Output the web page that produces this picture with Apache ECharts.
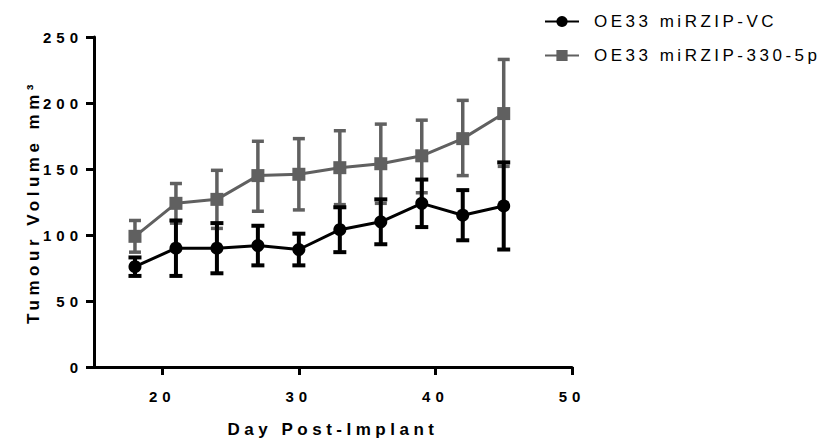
<!DOCTYPE html>
<html><head><meta charset="utf-8">
<script src="https://cdn.jsdelivr.net/npm/echarts@6/dist/echarts.min.js"></script>
<style>
html,body{margin:0;padding:0;background:#fff}
#c{width:838px;height:443px}
</style></head><body><div id="c"></div>
<script>
const days = [18, 21, 24, 27, 30, 33, 36, 39, 42, 45];
const vcMean = [76, 90, 90, 92, 89, 104, 110, 124, 115, 122];
const vcLow  = [69, 69, 71, 77, 77, 87, 93, 106, 96, 89];
const vcHigh = [83, 111, 109, 107, 101, 121, 127, 142, 134, 155];
const kdMean = [99, 124, 127, 145, 146, 151, 154, 160, 173, 192];
const kdLow  = [87, 109, 105, 118, 119, 123, 124, 132, 145, 152];
const kdHigh = [111, 139, 149, 171, 173, 179, 184, 187, 202, 233];
const xTicks = [20, 30, 40, 50];
const seriesNames = ['OE33 miRZIP-VC', 'OE33 miRZIP-330-5p'];
const xTitle = 'Day Post-Implant';
const yTitle = 'Tumour Volume mm\u00B3';

const BLACK = '#000000', GRAY = '#606060';
const FONT = "'Liberation Sans', Arial, sans-serif";

function errRender(color, lw, capW) {
  return function (params, api) {
    const x = api.value(0), lo = api.value(1), hi = api.value(2);
    const a = api.coord([x, lo]), b = api.coord([x, hi]);
    const st = { stroke: color, lineWidth: lw, fill: null };
    return { type: 'group', children: [
      { type: 'line', shape: { x1: a[0], y1: a[1], x2: b[0], y2: b[1] }, style: st },
      { type: 'line', shape: { x1: a[0] - capW / 2, y1: a[1], x2: a[0] + capW / 2, y2: a[1] }, style: st },
      { type: 'line', shape: { x1: b[0] - capW / 2, y1: b[1], x2: b[0] + capW / 2, y2: b[1] }, style: st }
    ]};
  };
}

const chart = echarts.init(document.getElementById('c'), null, { renderer: 'svg' });
chart.setOption({
  animation: false,
  backgroundColor: '#fff',
  textStyle: { fontFamily: FONT },
  grid: { left: 94, right: 266, top: 37, bottom: 76, outerBoundsMode: 'none', containLabel: false },
  legend: {
    data: seriesNames,
    orient: 'vertical',
    left: 539, top: 8,
    itemWidth: 34, itemHeight: 14, itemGap: 17,
    textStyle: { fontSize: 17, color: '#000', fontFamily: FONT, padding: [0, 0, 0, 10] }
  },
  xAxis: {
    type: 'value', min: 15, max: 50,
    name: xTitle, nameLocation: 'middle', nameGap: 54,
    nameTextStyle: { fontSize: 17, fontWeight: 'bold', color: '#000', fontFamily: FONT },
    axisLine: { lineStyle: { color: '#000', width: 3 } },
    axisTick: { customValues: xTicks, length: 8, lineStyle: { color: '#000', width: 3 } },
    axisLabel: { customValues: xTicks, margin: 22, fontSize: 15, fontWeight: 'bold', color: '#000', fontFamily: FONT },
    splitLine: { show: false }
  },
  yAxis: {
    type: 'value', min: 0, max: 250, interval: 50,
    name: yTitle, nameLocation: 'middle', nameGap: 52,
    nameTextStyle: { fontSize: 17, fontWeight: 'bold', color: '#000', fontFamily: FONT },
    axisLine: { show: true, lineStyle: { color: '#000', width: 3 } },
    axisTick: { show: true, length: 8, lineStyle: { color: '#000', width: 3 } },
    axisLabel: { margin: 11, fontSize: 15, fontWeight: 'bold', color: '#000', fontFamily: FONT },
    splitLine: { show: false }
  },
  series: [
    { type: 'custom', name: 'err330', renderItem: errRender(GRAY, 3.5, 12),
      data: days.map((d, i) => [d, kdLow[i], kdHigh[i]]), encode: { x: 0, y: [1, 2] }, z: 2 },
    { type: 'line', name: seriesNames[1], data: days.map((d, i) => [d, kdMean[i]]),
      symbol: 'rect', symbolSize: 13, color: GRAY,
      lineStyle: { color: GRAY, width: 3 }, itemStyle: { color: GRAY }, z: 3 },
    { type: 'custom', name: 'errVC', renderItem: errRender(BLACK, 4, 13),
      data: days.map((d, i) => [d, vcLow[i], vcHigh[i]]), encode: { x: 0, y: [1, 2] }, z: 4 },
    { type: 'line', name: seriesNames[0], data: days.map((d, i) => [d, vcMean[i]]),
      symbol: 'circle', symbolSize: 13, color: BLACK,
      lineStyle: { color: BLACK, width: 3 }, itemStyle: { color: BLACK }, z: 5 }
  ]
});

function spacing() {
  document.querySelectorAll('#c svg text').forEach(t => {
    const cs = getComputedStyle(t);
    const w = parseInt(cs.fontWeight, 10);
    const fs = parseFloat(cs.fontSize);
    let s = 3.5;
    if (w >= 600) s = fs >= 16 ? 4.5 : 5;
    t.style.letterSpacing = s + 'px';
  });
}
spacing();
chart.on('finished', spacing);
setTimeout(spacing, 50);
</script></body></html>
